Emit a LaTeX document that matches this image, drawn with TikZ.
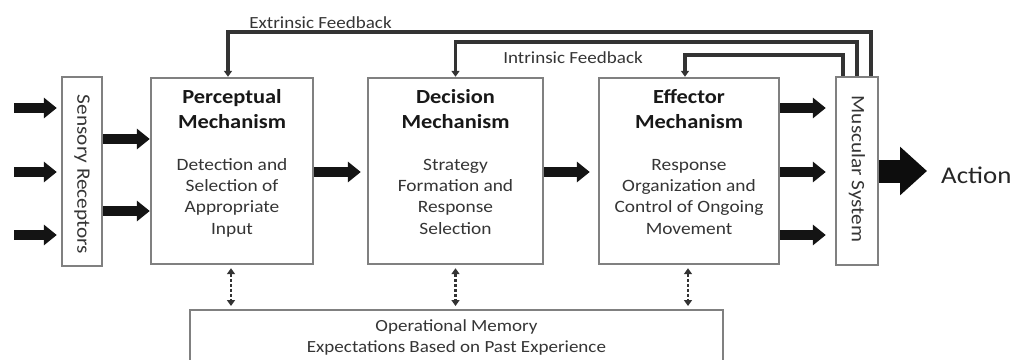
\documentclass[tikz,border=0pt]{standalone}
\usepackage{fontspec}
\setmainfont{Carlito}[FakeStretch=1.12]
\usetikzlibrary{arrows.meta}
\definecolor{boxgray}{HTML}{808080}
\definecolor{linegray}{HTML}{333333}
\definecolor{txtgray}{HTML}{353535}
\definecolor{ttlgray}{HTML}{181818}
\begin{document}
\begin{tikzpicture}[x=1pt,y=-1pt,
  box/.style={draw=boxgray,line width=2.4pt,fill=white,inner sep=0pt},
  blk/.style={line width=9.5pt,draw=black!92,-{Triangle[length=13pt,width=20pt]}},
  actarrow/.style={line width=23pt,draw=black!95,-{Triangle[length=27pt,width=47pt]}},
  fb/.style={line width=3.2pt,draw=linegray,-{Triangle[length=6pt,width=8pt]}},
  mem/.style={line width=2.6pt,draw=linegray,dash pattern=on 3pt off 2pt,
    {Triangle[length=6pt,width=8pt]}-{Triangle[length=6pt,width=8pt]},
    shorten <=3pt,shorten >=3pt},
  ttl/.style={font=\bfseries\fontsize{20}{25}\selectfont,text=ttlgray,anchor=north,inner sep=0pt,align=center},
  bdy/.style={font=\fontsize{17.3}{21.3}\selectfont,text=txtgray,anchor=north,inner sep=0pt,align=center},
  vtext/.style={font=\fontsize{19}{22}\selectfont,text=txtgray,rotate=-90,inner sep=0pt},
  lbl/.style={font=\fontsize{17}{21}\selectfont,text=txtgray,anchor=base,inner sep=0pt},
]
\clip (0,0) rectangle (1017,359);
\fill[white] (0,0) rectangle (1017,359);

% boxes
\node[box,minimum width=40pt,minimum height=189pt] (sr) at (82,171.5) {};
\node[vtext] (srT) at ([yshift=-3pt]sr.center) {Sensory Receptors};

\node[box,minimum width=162pt,minimum height=186pt] (pm) at (232,171) {};
\node[ttl] (pmT) at (232,85.5) {\strut Perceptual\\Mechanism};
\node[bdy] (pmB) at (232,155.1) {\strut Detection and\\Selection of\\Appropriate\\Input};

\node[box,minimum width=175pt,minimum height=186pt] (dm) at (455.5,171) {};
\node[ttl] (dmT) at (455.5,85.5) {\strut Decision\\Mechanism};
\node[bdy] (dmB) at (455.5,155.1) {\strut Strategy\\Formation and\\Response\\Selection};

\node[box,minimum width=180pt,minimum height=186pt] (em) at (689,171) {};
\node[ttl] (emT) at (689,85.5) {\strut Effector\\Mechanism};
\node[bdy] (emB) at (689,155.1) {\strut Response\\Organization and\\Control of Ongoing\\Movement};

\node[box,minimum width=42pt,minimum height=188pt] (ms) at (857,171) {};
\node[vtext] (msT) at ([yshift=2pt]ms.center) {Muscular System};

\node[box,minimum width=533pt,minimum height=80pt,anchor=north] (mm) at (456.5,309) {};
\node[font=\fontsize{17}{21}\selectfont,text=txtgray,anchor=north,inner sep=0pt,align=center] (mmT) at (456.5,316.1) {\strut Operational Memory\\Expectations Based on Past Experience};

\node[anchor=base west,font=\fontsize{24}{28}\selectfont,text=black!85,inner sep=0pt] (act) at (941,183) {Action};

% input arrows
\coordinate (in1) at (14,108);
\coordinate (in2) at (14,172);
\coordinate (in3) at (14,235);
\foreach \c in {in1,in2,in3}
  \draw[blk,shorten >=4pt] (\c) -- (\c -| sr.west);

% sensory -> perceptual
\draw[blk] (sr.east |- 0,139) -- (pm.west |- 0,139);
\draw[blk] (sr.east |- 0,211) -- (pm.west |- 0,211);

% mechanism chain
\draw[blk,shorten >=6pt] (pm.east |- 0,172) -- (dm.west |- 0,172);
\draw[blk,shorten >=8pt] (dm.east |- 0,172) -- (em.west |- 0,172);

% effector -> muscular
\draw[blk,shorten >=9pt] (em.east |- 0,108) -- (ms.west |- 0,108);
\draw[blk,shorten >=9pt] (em.east |- 0,172) -- (ms.west |- 0,172);
\draw[blk,shorten >=9pt] (em.east |- 0,235) -- (ms.west |- 0,235);

% action
\draw[actarrow,shorten >=14pt] (ms.east |- 0,171) -- (act.west |- 0,171);

% feedback loops
\coordinate (exS) at ([xshift=14pt]ms.north);
\coordinate (exT) at ([xshift=-4pt]pm.north);
\draw[fb] (exS) |- (exT |- 0,32) -- (exT);
\node[lbl] (exL) at (320.5,28) {Extrinsic Feedback};

\coordinate (in1S) at (ms.north);
\coordinate (in1T) at (dm.north);
\draw[fb] (in1S) |- (in1T |- 0,42) -- (in1T);

\coordinate (in2S) at ([xshift=-14pt]ms.north);
\coordinate (in2T) at ([xshift=-4pt]em.north);
\draw[fb] (in2S) |- (in2T |- 0,55) -- (in2T);
\node[lbl] (inL) at (573,63) {Intrinsic Feedback};

% memory links
\coordinate (m1) at ([xshift=-1pt]pm.south);
\coordinate (m2) at (dm.south);
\coordinate (m3) at ([xshift=-1pt]em.south);
\draw[mem] (m1) -- (m1 |- mm.north);
\draw[mem] (m2) -- (m2 |- mm.north);
\draw[mem] (m3) -- (m3 |- mm.north);
\end{tikzpicture}
\end{document}
